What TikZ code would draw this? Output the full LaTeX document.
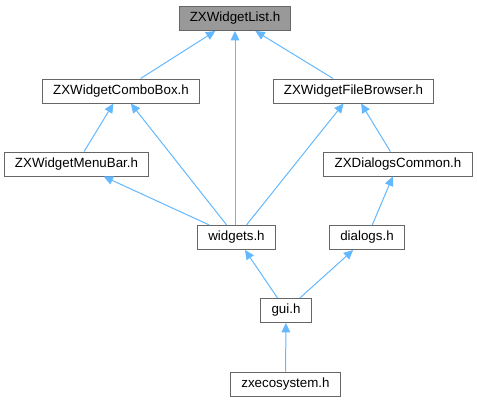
\documentclass[tikz,border=0pt]{standalone}
\usepackage{fontspec}
\setmainfont{Liberation Sans}
\usepackage{tikz}
\usetikzlibrary{arrows.meta}
\definecolor{DGedge}{HTML}{63B8FF}
\definecolor{DGborder}{HTML}{666666}
\definecolor{DGroot}{HTML}{999999}

\tikzset{
  file/.style={draw=DGborder, fill=white, line width=0.75pt,
    font=\fontsize{10}{12}\selectfont, inner xsep=8pt, inner ysep=0pt,
    minimum height=18pt},
  rootfile/.style={file, fill=DGroot},
  incl/.style={DGedge, line width=0.75pt, -{Triangle[length=7pt,width=6.5pt]}}
}

\begin{document}
\begin{tikzpicture}[x=0.75pt, y=-0.75pt]
  \useasboundingbox (0,0) rectangle (477,403);
  % header files, one row per rank
  \node[rootfile] (list) at (235,18.5) {ZXWidgetList.h};
  \node[file] (combo) at (121,91) {ZXWidgetComboBox.h};
  \node[file] (browser) at (353.5,91) {ZXWidgetFileBrowser.h};
  \node[file] (menubar) at (76.5,164) {ZXWidgetMenuBar.h};
  \node[file] (dlgcommon) at (398,164) {ZXDialogsCommon.h};
  \node[file] (widgets) at (236.5,237.5) {widgets.h};
  \node[file] (dialogs) at (367,237.5) {dialogs.h};
  \node[file] (gui) at (286,310.5) {gui.h};
  \node[file] (eco) at (285.5,384) {zxecosystem.h};

  % includes
  \draw[incl] (combo) -- (list);
  \draw[incl] (browser) -- (list);
  \draw[incl] (widgets.north -| list) -- (list);
  \draw[incl] (menubar) -- (combo);
  \draw[incl] (widgets) -- (combo);
  \draw[incl] (widgets) -- (menubar);
  \draw[incl] (widgets) -- (browser);
  \draw[incl] (dlgcommon) -- (browser);
  \draw[incl] (dialogs) -- (dlgcommon);
  \draw[incl] (gui) -- (widgets);
  \draw[incl] (gui) -- (dialogs);
  \draw[incl] (eco) -- (gui);
\end{tikzpicture}
\end{document}
